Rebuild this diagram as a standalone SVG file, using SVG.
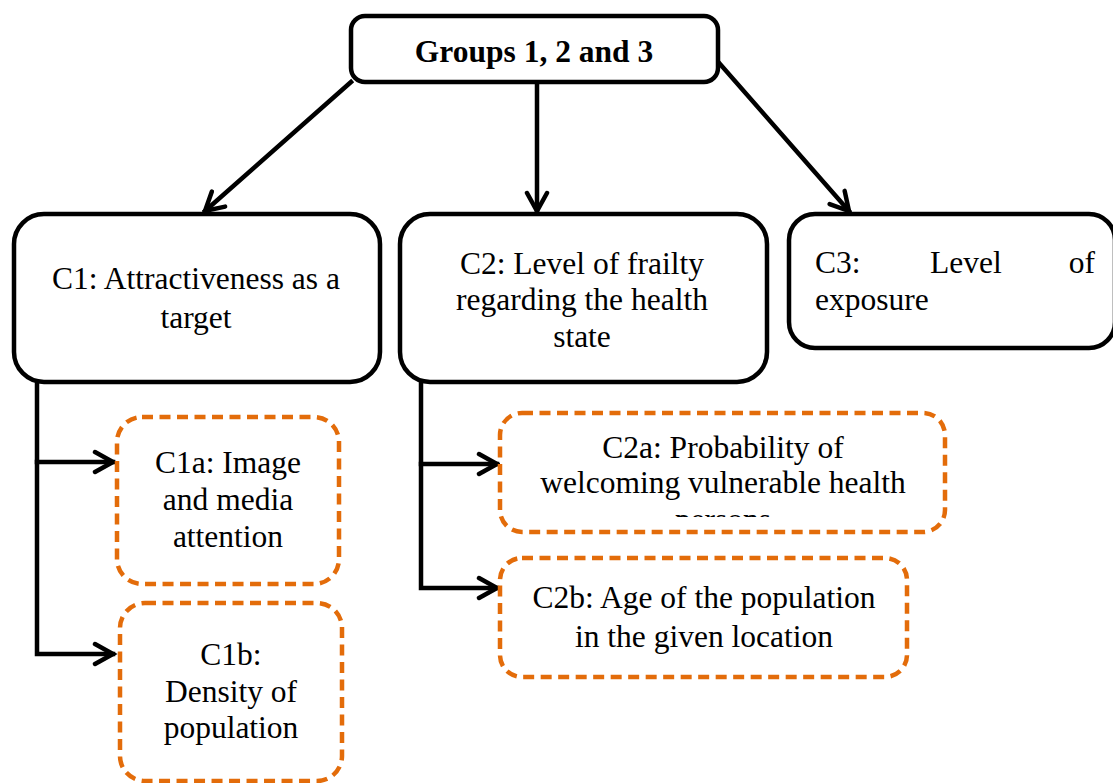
<svg xmlns="http://www.w3.org/2000/svg" width="1113" height="783" viewBox="0 0 1113 783">
  <style>
    .box { fill: #ffffff; stroke: #000000; stroke-width: 4.5; }
    .sub { fill: #ffffff; stroke: #E36C0A; stroke-width: 4.5; stroke-dasharray: 11 6.5; }
    .lbl { font-family: "Liberation Serif", "Times New Roman", serif; font-size: 31.5px; fill: #000000; text-anchor: middle; }
    .title { font-weight: bold; }
    .left { text-anchor: start; }
    .right { text-anchor: end; }
    .link { fill: none; stroke: #000000; stroke-width: 4.5; stroke-linecap: square; }
  </style>
  <defs>
    <marker id="chev" markerUnits="userSpaceOnUse" viewBox="0 -13 26 26" markerWidth="26" markerHeight="26" refX="21" refY="0" orient="auto">
      <path d="M3,-10 L21,0 L3,10" fill="none" stroke="#000000" stroke-width="4.5" stroke-linecap="round" stroke-linejoin="miter"/>
    </marker>
    <clipPath id="c2a-clip">
      <rect x="500" y="413" width="445" height="104"/>
    </clipPath>
  </defs>

  <!-- connectors -->
  <g id="connectors">
    <line class="link" x1="351" y1="82" x2="205" y2="211" marker-end="url(#chev)"/>
    <line class="link" x1="537" y1="84" x2="537" y2="211" marker-end="url(#chev)"/>
    <line class="link" x1="720" y1="64" x2="849" y2="211" marker-end="url(#chev)"/>
    <polyline class="link" points="37,384 37,654 113,654" marker-end="url(#chev)"/>
    <line class="link" x1="37" y1="462" x2="113" y2="462" marker-end="url(#chev)"/>
    <polyline class="link" points="421,384 421,588 497,588" marker-end="url(#chev)"/>
    <line class="link" x1="421" y1="464" x2="497" y2="464" marker-end="url(#chev)"/>
  </g>

  <!-- root -->
  <g id="groups">
    <rect class="box" x="351" y="16" width="367" height="66" rx="14"/>
    <text class="lbl title" x="534" y="62">Groups 1, 2 and 3</text>
  </g>

  <!-- criteria -->
  <g id="c1">
    <rect class="box" x="14" y="214" width="366" height="168" rx="30"/>
    <text class="lbl" x="196" y="289">C1: Attractiveness as a</text>
    <text class="lbl" x="196" y="328">target</text>
  </g>
  <g id="c2">
    <rect class="box" x="400" y="214" width="367" height="168" rx="30"/>
    <text class="lbl" x="582" y="274">C2: Level of frailty</text>
    <text class="lbl" x="582" y="310">regarding the health</text>
    <text class="lbl" x="582" y="347">state</text>
  </g>
  <g id="c3">
    <rect class="box" x="789" y="214" width="326" height="134" rx="26"/>
    <text class="lbl left" x="815" y="273">C3:</text>
    <text class="lbl left" x="930" y="273">Level</text>
    <text class="lbl right" x="1095" y="273">of</text>
    <text class="lbl left" x="815" y="310">exposure</text>
  </g>

  <!-- sub-criteria -->
  <g id="c1a">
    <rect class="sub" x="117" y="417" width="222" height="167" rx="25"/>
    <text class="lbl" x="228" y="473">C1a: Image</text>
    <text class="lbl" x="228" y="510">and media</text>
    <text class="lbl" x="228" y="547">attention</text>
  </g>
  <g id="c1b">
    <rect class="sub" x="120" y="603" width="222" height="178" rx="25"/>
    <text class="lbl" x="231" y="665">C1b:</text>
    <text class="lbl" x="231" y="702">Density of</text>
    <text class="lbl" x="231" y="738">population</text>
  </g>
  <g id="c2a">
    <rect class="sub" x="500" y="413" width="445" height="119" rx="22"/>
    <text class="lbl" x="723" y="458">C2a: Probability of</text>
    <text class="lbl" x="723" y="493">welcoming vulnerable health</text>
    <text class="lbl" x="723" y="530" clip-path="url(#c2a-clip)">persons</text>
  </g>
  <g id="c2b">
    <rect class="sub" x="500" y="558" width="407" height="119" rx="22"/>
    <text class="lbl" x="704" y="608">C2b: Age of the population</text>
    <text class="lbl" x="704" y="647">in the given location</text>
  </g>
</svg>
